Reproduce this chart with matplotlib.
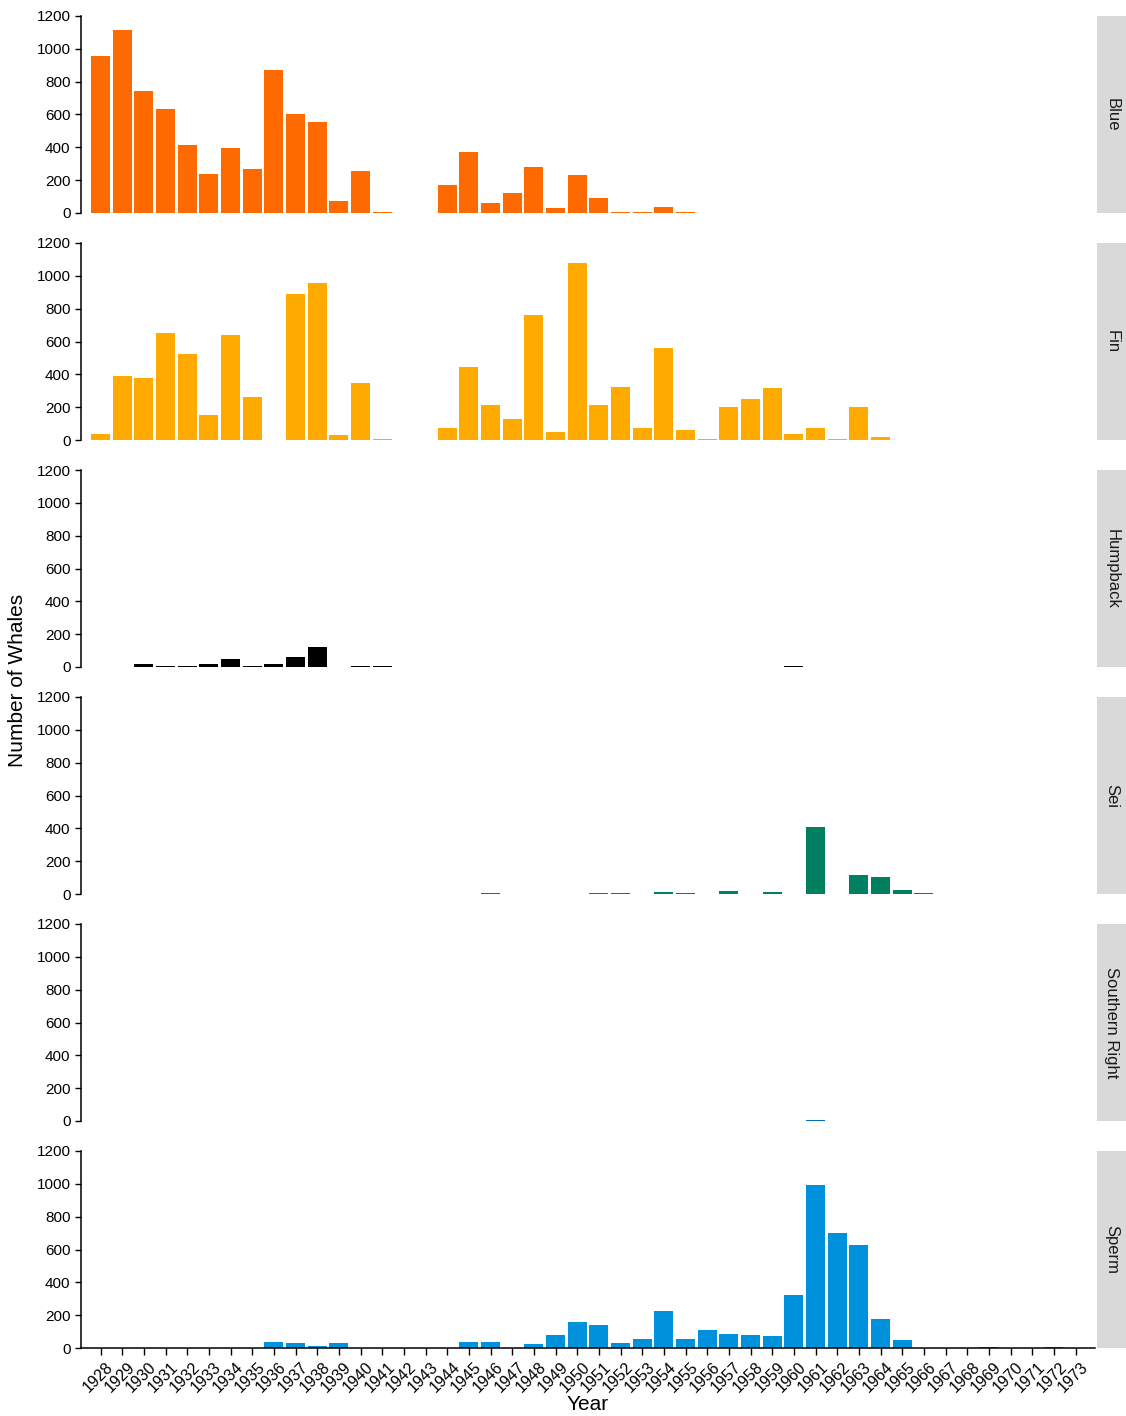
import numpy as np
import matplotlib
matplotlib.use("Agg")
from matplotlib import pyplot as plt
from matplotlib.patches import Rectangle
from matplotlib.transforms import ScaledTranslation

plt.rcParams['font.family'] = ['Liberation Sans', 'DejaVu Sans']

years = np.arange(1928, 1974)

# whales caught per season, 1928..1973
blue = [958, 1113, 744, 635, 415, 240, 393, 268, 871, 605, 553, 75, 256, 8,
        0, 0, 171, 373, 63, 119, 282, 32, 234, 89, 8, 4, 34, 4, 2,
        0, 0, 0, 0, 0, 0, 0, 0, 0, 0, 0, 0, 0, 0, 0, 0, 0]
fin = [34, 387, 377, 651, 526, 155, 637, 264, 0, 889, 954, 30, 349, 8,
       0, 0, 71, 442, 214, 125, 760, 46, 1079, 216, 321, 75, 559, 61, 8,
       204, 248, 319, 36, 71, 4, 198, 18,
       0, 0, 0, 0, 0, 0, 0, 0, 0]
humpback = [0, 0, 16, 8, 8, 16, 46, 4, 20, 58, 122, 0, 4, 4,
            0, 0, 0, 0, 0, 0, 0, 0, 2, 0, 0, 0, 2, 0, 0, 0, 0, 0, 5,
            0, 0, 0, 0, 0, 0, 0, 0, 0, 0, 0, 0, 0]
sei = [0, 0, 0, 0, 0, 0, 0, 0, 0, 2, 0, 0, 2, 0,
       0, 0, 0, 0, 4, 0, 0, 0, 0, 4, 4, 0, 12, 6, 0, 16, 0, 15, 0,
       410, 0, 117, 101, 24, 5, 0, 0, 0, 0, 0, 0, 0]
southern_right = [0] * 33 + [8] + [0] * 12
sperm = [0, 0, 0, 0, 0, 0, 3, 3, 37, 33, 14, 31, 0, 2,
         0, 0, 0, 37, 35, 0, 24, 77, 156, 143, 32, 57, 228, 53, 109,
         83, 77, 71, 321, 994, 703, 630, 176, 46, 0, 0, 0, 8, 0, 0, 4, 0]

species = ['Blue', 'Fin', 'Humpback', 'Sei', 'Southern Right', 'Sperm']
counts = [blue, fin, humpback, sei, southern_right, sperm]
colours = ['#FF6A00', '#FFAA00', '#000000', '#008060', '#0072C6', '#0091DC']

W, H = 1126, 1416
fig = plt.figure(figsize=(W / 100, H / 100), dpi=100)

left, right = 81, 1095
top0, ph, pitch = 16, 197, 227

for i, (name, vals, col) in enumerate(zip(species, counts, colours)):
    top = top0 + pitch * i
    ax = fig.add_axes([left / W, 1 - (top + ph) / H, (right - left) / W, ph / H])
    vals = np.array(vals)
    nz = vals > 0   # years with no catch get no bar
    ax.bar(years[nz], vals[nz], width=0.88, color=col, linewidth=0)
    ax.set_xlim(1927.1, 1973.9)
    ax.set_ylim(0, 1200)
    ax.set_yticks(range(0, 1201, 200))
    for s in ['top', 'right']:
        ax.spines[s].set_visible(False)
    ax.spines['left'].set_linewidth(1.1)
    ax.tick_params(axis='y', labelsize=11, length=4, width=1, colors='black')
    if i < len(species) - 1:
        ax.spines['bottom'].set_visible(False)
        ax.set_xticks([])
    else:
        ax.spines['bottom'].set_linewidth(1.1)
        ax.set_xticks(years)
        ax.set_xticklabels([str(y) for y in years], rotation=45, ha='right',
                           rotation_mode='anchor', fontsize=11.5)
        ax.tick_params(axis='x', length=5, width=1, colors='black', pad=3)
        shift = ScaledTranslation(5 / 100, 0, fig.dpi_scale_trans)
        for lab in ax.get_xticklabels():
            lab.set_transform(lab.get_transform() + shift)
        ax.set_xlabel('Year', fontsize=15, labelpad=0)

    # facet strip on the right
    sx = 1097
    fig.patches.append(Rectangle((sx / W, 1 - (top + ph) / H), 40 / W, ph / H,
                                 transform=fig.transFigure, facecolor='#D9D9D9',
                                 edgecolor='none'))
    fig.text((sx + 15) / W, 1 - (top + ph / 2) / H, name, rotation=-90,
             ha='center', va='center', fontsize=12, color='#1A1A1A')

fig.text(18 / W, 1 - 680 / H, 'Number of Whales', rotation=90,
         ha='center', va='center', fontsize=15)

plt.savefig('out.png', dpi=100)
